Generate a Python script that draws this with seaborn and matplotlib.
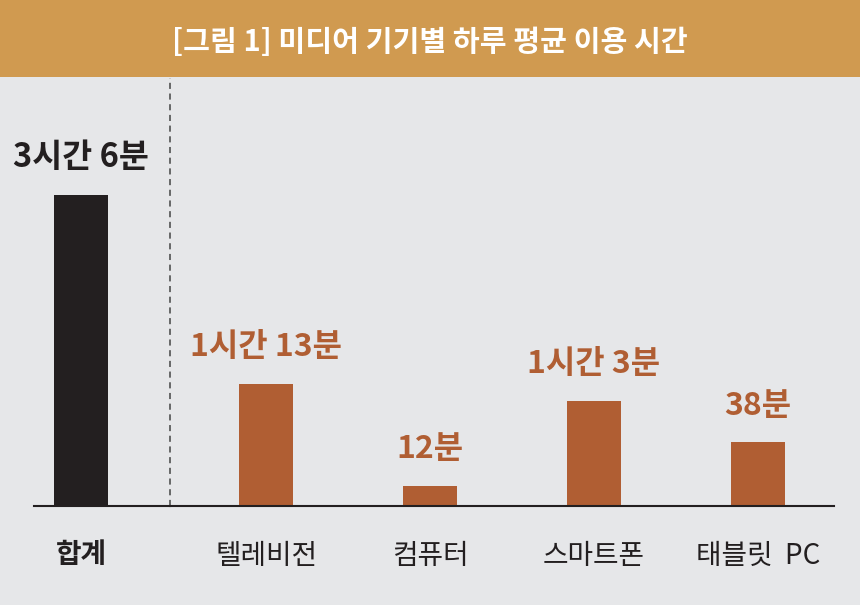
import matplotlib
matplotlib.use("Agg")
import matplotlib.pyplot as plt
import seaborn as sns
import pandas as pd

# data (minutes)
total_label = "합계"
total_minutes = [186]
total_text = ["3시간 6분"]

devices = ["텔레비전", "컴퓨터", "스마트폰", "태블릿  PC"]
device_minutes = [73, 12, 63, 38]
device_text = ["1시간 13분", "12분", "1시간 3분", "38분"]

title = "[그림 1] 미디어 기기별 하루 평균 이용 시간"

BG = "#E6E7E9"
GOLD = "#D09A50"
DARK = "#231F20"
ORANGE = "#B05E33"

sns.set_theme(style="white")
plt.rcParams["font.family"] = ["Noto Sans CJK KR", "DejaVu Sans"]

fig = plt.figure(figsize=(8.6, 6.05), dpi=100)
fig.patch.set_facecolor(BG)

W, H = 860, 605
base_y = 1 - 506 / H
top_y = 1 - 78 / H
ax1 = fig.add_axes([34 / W, base_y, (170 - 34) / W, top_y - base_y])
ax2 = fig.add_axes([170 / W, base_y, (834 - 170) / W, top_y - base_y], sharey=ax1)

df1 = pd.DataFrame({"cat": [total_label], "min": total_minutes})
df2 = pd.DataFrame({"cat": devices, "min": device_minutes})

sns.barplot(data=df1, x="cat", y="min", ax=ax1, color=DARK, width=0.8,
            saturation=1, linewidth=0)
sns.barplot(data=df2, x="cat", y="min", ax=ax2, color=ORANGE, width=54 / 164,
            saturation=1, linewidth=0)

ymax = 256
ax1.set_ylim(0, ymax)
ax1.set_xlim(-(81 - 34) / 67.5, (170 - 81) / 67.5)
ax2.set_xlim(-(266 - 170) / 164, 3 + (834 - 758) / 164)

for ax in (ax1, ax2):
    ax.set_facecolor(BG)
    for s in ("top", "right", "left"):
        ax.spines[s].set_visible(False)
    ax.spines["bottom"].set_color(DARK)
    ax.spines["bottom"].set_linewidth(1.5)
    ax.set_xlabel("")
    ax.set_ylabel("")
    ax.set_yticks([])
    ax.tick_params(axis="x", length=0, pad=25)

for lab in ax1.get_xticklabels():
    lab.set_fontsize(20)
    lab.set_fontweight("bold")
    lab.set_color(DARK)
for lab in ax2.get_xticklabels():
    lab.set_fontsize(20)
    lab.set_color(DARK)

# value labels
for i, (v, t) in enumerate(zip(total_minutes, total_text)):
    ax1.annotate(t, (i, v), xytext=(0, 15), textcoords="offset points",
                 ha="center", va="bottom", fontsize=23.5, fontweight="bold", color=DARK)
for i, (v, t) in enumerate(zip(device_minutes, device_text)):
    ax2.annotate(t, (i, v), xytext=(0, 15), textcoords="offset points",
                 ha="center", va="bottom", fontsize=23, fontweight="bold", color=ORANGE)

# dashed divider
ax2.axvline(ax2.get_xlim()[0], color="#444444", lw=1.1, ls=(0, (4, 3)), clip_on=False)

# title bar
fig.patches.append(plt.Rectangle((0, 1 - 77 / H), 1, 77 / H, transform=fig.transFigure,
                                 facecolor=GOLD, edgecolor="none", zorder=0))
fig.text(0.5, 1 - 42 / H, title, ha="center", va="center", fontsize=21,
         fontweight="bold", color="white")

fig.savefig("out.png", dpi=100, facecolor=BG)
